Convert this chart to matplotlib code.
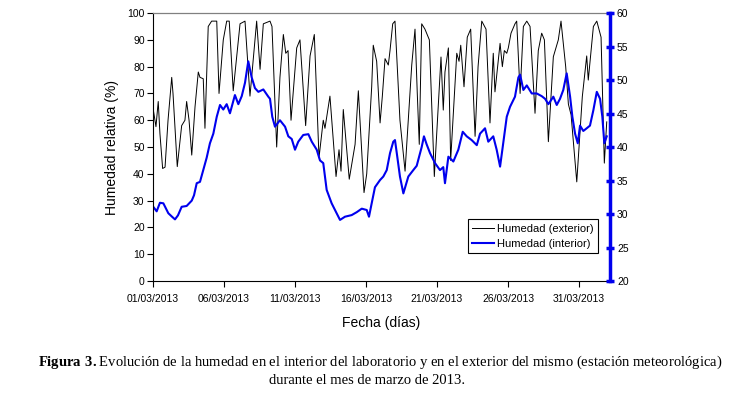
"""
plot.py
=======
Humedad relativa en el interior del laboratorio y en el exterior
(estacion meteorologica) durante marzo de 2013.
"""

import numpy as np
import pandas as pd
import matplotlib
matplotlib.use("Agg")
import matplotlib.pyplot as plt
import matplotlib.dates as mdates

plt.rcParams["font.family"] = ["Liberation Sans", "DejaVu Sans"]
plt.rcParams["mathtext.fontset"] = "custom"
plt.rcParams["mathtext.rm"] = "Liberation Serif"
plt.rcParams["mathtext.bf"] = "Liberation Serif:bold"

START = pd.Timestamp("2013-03-01")

# ── Data (days since 01/03/2013, humedad %) ────────────────────────────────

ext_days = [0.02, 0.21, 0.37, 0.49, 0.68, 0.85, 1.06, 1.32, 1.41, 1.71,
            2.02, 2.25, 2.37, 2.54, 2.73, 2.96, 3.19, 3.31, 3.54, 3.66,
            3.89, 4.13, 4.49, 4.65, 4.95, 5.19, 5.37, 5.65, 6.13, 6.48,
            6.83, 7.30, 7.42, 7.54, 7.77, 8.24, 8.38, 8.71, 8.94, 9.18,
            9.35, 9.51, 9.72, 10.12, 10.35, 10.75, 11.06, 11.36, 11.69, 11.99,
            12.11, 12.46, 12.89, 13.10, 13.24, 13.40, 13.82, 14.23, 14.46, 14.86,
            15.05, 15.40, 15.51, 15.75, 15.99, 16.15, 16.34, 16.57, 16.69, 16.88,
            17.04, 17.39, 17.75, 18.22, 18.45, 18.61, 18.75, 18.92, 19.15, 19.46,
            19.81, 20.21, 20.28, 20.44, 20.56, 20.80, 20.96, 21.39, 21.55, 21.67,
            21.90, 22.13, 22.37, 22.68, 22.89, 23.15, 23.45, 23.73, 23.96, 24.08,
            24.23, 24.44, 24.60, 24.74, 24.91, 25.02, 25.21, 25.49, 25.61, 25.85,
            26.08, 26.32, 26.55, 26.90, 27.13, 27.37, 27.56, 27.84, 28.19, 28.54,
            28.73, 29.06, 29.25, 29.44, 29.84, 30.23, 30.54, 30.65, 31.01, 31.25,
            31.55, 31.78, 31.95]
ext_hum = [64, 57.6, 67, 55, 42, 42.5, 60, 76, 70, 42.7,
           58, 60, 67, 60, 47, 65, 78, 76, 75.5, 57,
           95, 97, 97, 70, 90, 97, 97, 71, 96, 97,
           69, 97, 88, 79, 96, 97, 95, 50, 76, 92,
           85, 86, 60, 87, 90, 58, 84, 92, 46, 60,
           57, 69, 39, 49, 41, 64, 38, 51, 71, 33,
           40, 72.5, 88, 82, 59, 69, 83, 80.6, 86, 96,
           97, 60, 41, 80.6, 94, 70, 51, 96, 94, 90,
           39, 77.6, 83.6, 63.8, 78, 87, 45, 85, 82, 88,
           72.5, 91, 94, 54, 80, 97, 94, 59, 85, 70.6,
           78, 88.7, 80, 86, 85, 87, 92.5, 96, 97, 70,
           95, 97, 95, 62.6, 86, 92.5, 90, 52, 83.7, 90,
           97, 80, 66, 62, 37, 68.8, 84, 75, 95, 97,
           91, 44, 59.4]

int_days = [0.02, 0.26, 0.49, 0.73, 1.08, 1.34, 1.55, 1.76, 2.02, 2.37,
            2.73, 2.89, 3.08, 3.31, 3.54, 3.78, 4.01, 4.25, 4.49, 4.72,
            4.95, 5.19, 5.42, 5.77, 6.01, 6.25, 6.48, 6.71, 6.95, 7.18,
            7.42, 7.77, 8.12, 8.24, 8.40, 8.59, 8.94, 9.30, 9.53, 9.77,
            10.00, 10.23, 10.58, 10.94, 11.18, 11.53, 11.76, 11.99, 12.23, 12.58,
            12.94, 13.17, 13.52, 13.99, 14.35, 14.70, 15.05, 15.21, 15.40, 15.63,
            15.99, 16.22, 16.46, 16.69, 16.92, 17.04, 17.16, 17.39, 17.63, 17.98,
            18.33, 18.57, 18.92, 19.08, 19.27, 19.51, 19.86, 20.21, 20.44, 20.56,
            20.80, 21.15, 21.50, 21.81, 22.09, 22.44, 22.80, 23.03, 23.38, 23.61,
            23.96, 24.20, 24.44, 24.60, 24.91, 25.14, 25.49, 25.73, 25.85, 26.08,
            26.32, 26.67, 27.02, 27.37, 27.61, 27.84, 28.19, 28.43, 28.66, 28.89,
            29.13, 29.37, 29.53, 29.72, 29.91, 30.07, 30.30, 30.54, 30.77, 31.01,
            31.25, 31.48, 31.64, 31.78, 31.95]
int_hum = [27.7, 26, 29.2, 29, 25.3, 24, 23, 24.5, 27.7, 28,
           30, 32, 36.5, 37, 41.4, 46, 51.4, 55, 61.3, 65.7,
           64, 66, 62.6, 69.4, 66, 69, 74, 82, 76, 72,
           70.6, 71.5, 68.8, 68, 61.3, 57.6, 60, 57.6, 54, 53,
           49, 52, 54.5, 54.8, 52, 49, 45, 44, 34, 29,
           25.2, 22.8, 24, 24.6, 25.7, 27, 26.5, 24, 29, 35,
           37.7, 39, 41.4, 47.7, 52, 52.6, 48, 39, 32.7, 39,
           41.4, 43, 50, 54, 51, 47.7, 44, 41.4, 42.5, 36.5,
           46.4, 44.6, 49, 55.7, 54, 52.6, 50.7, 55, 57, 52,
           54, 49, 42.7, 49, 61.3, 65, 68.8, 76, 77, 71.3,
           73, 70, 70, 69, 68, 66, 68.8, 65.7, 68, 71.3,
           77.5, 68.8, 61.3, 55, 51.4, 58, 56, 57, 58, 63.8,
           70.6, 68, 61.3, 51.4, 54]

tick_dates = ["2013-03-01", "2013-03-06", "2013-03-11", "2013-03-16",
              "2013-03-21", "2013-03-26", "2013-03-31"]
x_end_days = 32.18

CAPTION_1 = (r"$\mathbf{Figura\ 3.}$Evolución de la humedad en el interior del "
             "laboratorio y en el exterior del mismo (estación meteorológica)")
CAPTION_2 = "durante el mes de marzo de 2013."


def to_dates(days):
    return START + pd.to_timedelta(np.asarray(days), unit="D")


# ── Figure ─────────────────────────────────────────────────────────────────

fig = plt.figure(figsize=(7.33, 3.94), dpi=100)
ax = fig.add_axes([0.2087, 0.2868, 0.6235, 0.680])

ax.plot(to_dates(ext_days), ext_hum, color="black", lw=0.7,
        label="Humedad (exterior)")
ax.plot(to_dates(int_days), int_hum, color="#0000ee", lw=1.5,
        label="Humedad (interior)")

ax.set_xlim(START, START + pd.Timedelta(days=x_end_days))
ax.set_ylim(0, 100)
ax.set_yticks(np.arange(0, 101, 10))
ax.set_xticks(pd.to_datetime(tick_dates))
ax.xaxis.set_major_formatter(mdates.DateFormatter("%d/%m/%Y"))
ax.tick_params(axis="both", labelsize=7.5, length=4, width=0.8, color="black")
ax.tick_params(axis="x", pad=5)
ax.tick_params(axis="y", pad=2)

for side in ["left", "bottom"]:
    ax.spines[side].set_color("black")
    ax.spines[side].set_linewidth(0.8)
ax.spines["top"].set_color("#808080")
ax.spines["top"].set_linewidth(0.9)
ax.spines["right"].set_visible(False)

ax.set_ylabel("Humedad relativa (%)", fontsize=10)
ax.yaxis.set_label_coords(-0.074, 0.5)
ax.set_xlabel("Fecha (días)", fontsize=10)
ax.xaxis.set_label_coords(0.5, -0.13)

# secondary axis: blue scale on the right
ax2 = ax.twinx()
ax2.set_ylim(20, 60)
ax2.set_yticks(np.arange(20, 61, 5))
for side in ["left", "top", "bottom"]:
    ax2.spines[side].set_visible(False)
ax2.spines["right"].set_color("#0000ee")
ax2.spines["right"].set_linewidth(2.5)
ax2.tick_params(axis="y", direction="inout", length=6, width=2.5,
                color="#0000ee", labelsize=7.5, labelcolor="black", pad=2)

leg = ax.legend(loc="lower right", bbox_to_anchor=(0.974, 0.104),
                fontsize=8, frameon=True, fancybox=False, framealpha=1,
                edgecolor="black", borderaxespad=0, handlelength=2.0,
                handletextpad=0.25, borderpad=0.4, labelspacing=0.45)
leg.get_frame().set_linewidth(0.8)
leg.set_zorder(5)

# caption, two lines centred slightly differently as in the source
fig.text(380 / 733, 1 - 362 / 394, CAPTION_1, ha="center", va="center",
         fontsize=10.5, family="Liberation Serif")
fig.text(367 / 733, 1 - 380 / 394, CAPTION_2, ha="center", va="center",
         fontsize=10.5, family="Liberation Serif")

fig.savefig("out.png", dpi=100)
plt.close(fig)
